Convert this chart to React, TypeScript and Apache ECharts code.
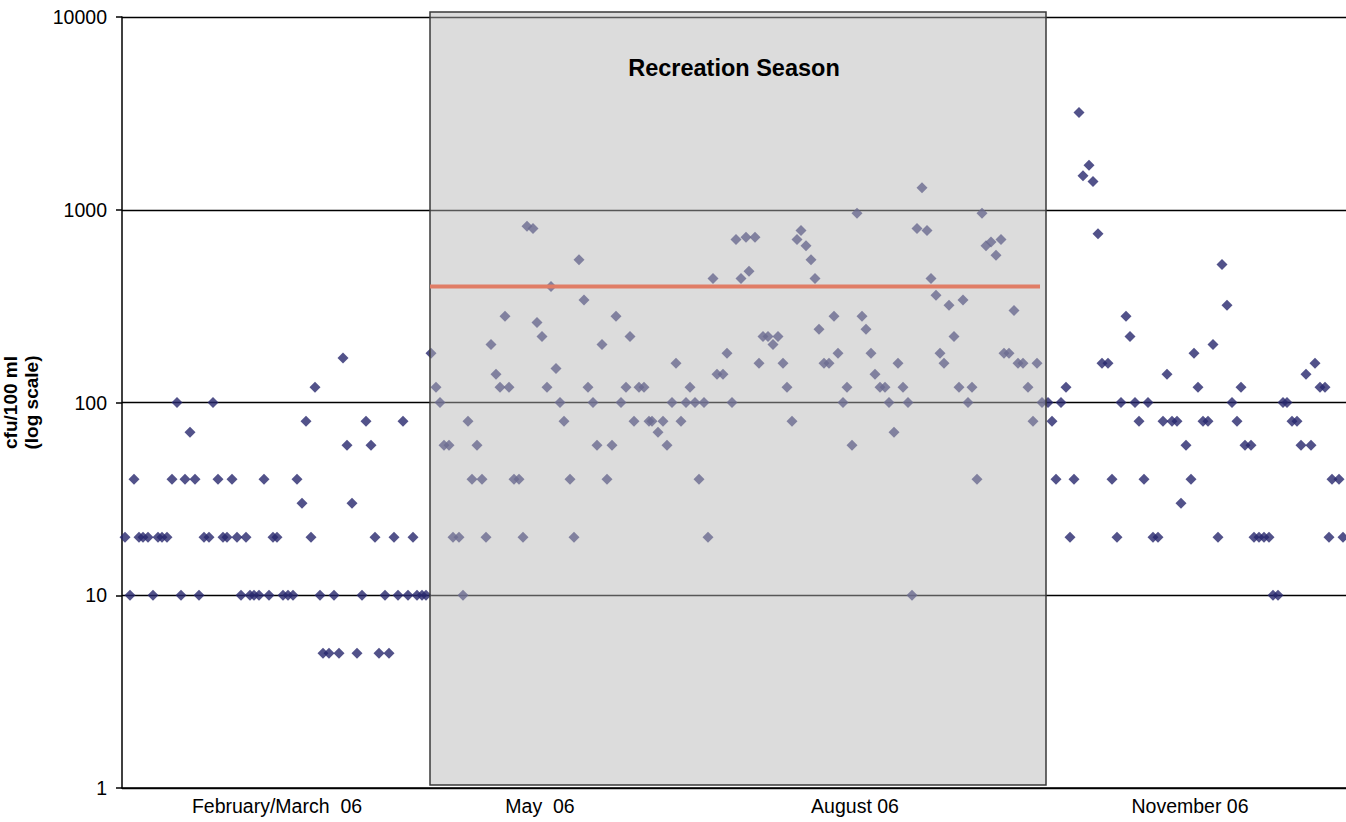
import React, { useEffect, useRef } from "react";
import * as echarts from "echarts";

// Sampling position (time units along the x axis) and cfu/100 ml readings
const febMar: [number, number][] = [
  [3, 20], [8, 10], [12, 40], [17, 20], [21, 20], [26, 20], [31, 10], [36, 20], [40, 20], [45, 20],
  [50, 40], [55, 100], [59, 10], [63, 40], [68, 70], [73, 40], [77, 10], [82, 20], [87, 20], [91, 100],
  [96, 40], [101, 20], [105, 20], [110, 40], [115, 20], [119, 10], [124, 20], [128, 10], [132, 10], [137, 10],
  [142, 40], [147, 10], [151, 20], [155, 20], [161, 10], [166, 10], [171, 10], [175, 40], [180, 30], [184, 80],
  [189, 20], [193, 120], [198, 10], [201, 5], [207, 5], [212, 10], [217, 5], [221, 170], [225, 60], [230, 30],
  [235, 5], [240, 10], [244, 80], [249, 60], [253, 20], [257, 5], [263, 10], [267, 5], [272, 20], [276, 10],
  [281, 80], [286, 10], [291, 20], [295, 10], [300, 10], [304, 10],
];

const season: [number, number][] = [
  [309, 180], [314, 120], [318, 100], [322, 60], [327, 60], [331, 20], [337, 20], [341, 10], [346, 80], [350, 40],
  [355, 60], [360, 40], [364, 20], [369, 200], [374, 140], [378, 120], [383, 280], [387, 120], [392, 40], [397, 40],
  [401, 20], [405, 820], [411, 800], [415, 260], [420, 220], [425, 120], [429, 400], [434, 150], [438, 100], [442, 80],
  [448, 40], [452, 20], [457, 550], [462, 340], [466, 120], [471, 100], [475, 60], [480, 200], [485, 40], [490, 60],
  [494, 280], [499, 100], [504, 120], [508, 220], [512, 80], [517, 120], [522, 120], [527, 80], [530, 80], [536, 70],
  [541, 80], [545, 60], [550, 100], [554, 160], [559, 80], [564, 100], [568, 120], [573, 100], [577, 40], [582, 100],
  [586, 20], [591, 440], [595, 140], [601, 140], [605, 180], [610, 100], [614, 700], [619, 440], [624, 720], [627, 480],
  [633, 720], [637, 160], [641, 220], [646, 220], [651, 200], [656, 220], [661, 160], [665, 120], [670, 80], [675, 700],
  [679, 780], [684, 650], [689, 550], [693, 440], [697, 240], [702, 160], [707, 160], [712, 280], [716, 180], [721, 100],
  [725, 120], [730, 60], [735, 960], [740, 280], [744, 240], [749, 180], [753, 140], [758, 120], [763, 120], [767, 100],
  [772, 70], [776, 160], [781, 120], [786, 100], [790, 10], [795, 800], [800, 1300], [805, 780], [809, 440], [814, 360],
  [818, 180], [822, 160], [827, 320], [832, 220], [837, 120], [841, 340], [846, 100], [850, 120], [855, 40], [860, 960],
  [864, 650], [869, 680], [874, 580], [879, 700], [882, 180], [887, 180], [892, 300], [896, 160], [901, 160], [906, 120],
  [911, 80], [915, 160], [920, 100],
];

const autumn: [number, number][] = [
  [926, 100], [930, 80], [934, 40], [939, 100], [944, 120], [948, 20], [952, 40], [957, 3200], [961, 1500], [967, 1700],
  [971, 1400], [976, 750], [980, 160], [986, 160], [990, 40], [995, 20], [999, 100], [1004, 280], [1008, 220], [1013, 100],
  [1017, 80], [1022, 40], [1026, 100], [1031, 20], [1036, 20], [1041, 80], [1045, 140], [1050, 80], [1055, 80], [1059, 30],
  [1064, 60], [1069, 40], [1072, 180], [1076, 120], [1081, 80], [1086, 80], [1091, 200], [1096, 20], [1100, 520], [1105, 320],
  [1110, 100], [1115, 80], [1119, 120], [1123, 60], [1129, 60], [1132, 20], [1137, 20], [1142, 20], [1147, 20], [1151, 10],
  [1156, 10], [1161, 100], [1165, 100], [1170, 80], [1175, 80], [1179, 60], [1184, 140], [1189, 60], [1193, 160], [1198, 120],
  [1203, 120], [1207, 20], [1210, 40], [1217, 40], [1221, 20],
];

const periodLabels = ["February/March  06", "May  06", "August 06", "November 06"];
const periodLabelPos = [155, 418, 733, 1068];

const seasonRange = [308, 924];
const standardRange = [308, 918];
const standardValue = 400;
const yTicks = [1, 10, 100, 1000, 10000];

const FONT = '"Liberation Sans", Arial, Helvetica, sans-serif';

export default function App() {
  const ref = useRef<HTMLDivElement>(null);

  useEffect(() => {
    if (!ref.current) return;
    const chart = echarts.init(ref.current, undefined, { renderer: "svg" });
    const labelMap: Record<number, string> = {};
    periodLabelPos.forEach((p, i) => (labelMap[p] = periodLabels[i]));

    const scatterBase = {
      type: "scatter",
      symbol: "diamond",
      symbolSize: 11,
      itemStyle: { color: "#27276d" },
      z: 2,
    };

    chart.setOption({
      animation: false,
      backgroundColor: "#fff",
      grid: { left: 122, top: 17, right: 0, bottom: 34, outerBoundsMode: "none", containLabel: false },
      xAxis: {
        type: "value",
        min: 0,
        max: 1224,
        axisLine: { show: true, onZero: false, lineStyle: { color: "#000", width: 1.5 } },
        axisTick: { show: false },
        splitLine: { show: false },
        axisLabel: {
          customValues: periodLabelPos,
          formatter: (v: number) => labelMap[v] ?? "",
          color: "#000",
          fontSize: 19.5,
          fontFamily: FONT,
          margin: 8,
        },
      },
      yAxis: {
        type: "log",
        logBase: 10,
        min: yTicks[0],
        max: yTicks[yTicks.length - 1],
        name: "cfu/100 ml\n(log scale)",
        nameLocation: "middle",
        nameRotate: 90,
        nameGap: 64,
        nameTextStyle: { fontSize: 19, fontWeight: "bold", fontFamily: FONT, color: "#000", lineHeight: 21 },
        axisLine: { show: true, lineStyle: { color: "#000", width: 1.5 } },
        axisTick: { show: true, length: 6, lineStyle: { color: "#000", width: 1.5 } },
        minorTick: { show: false },
        splitLine: { show: true, lineStyle: { color: "#000", width: 1.3 } },
        axisLabel: {
          color: "#000",
          fontSize: 19.5,
          fontFamily: FONT,
          margin: 15,
          formatter: (v: number) => String(Math.round(v)),
        },
      },
      series: [
        { ...scatterBase, name: "Feb/Mar", data: febMar },
        { ...scatterBase, name: "Season", data: season },
        { ...scatterBase, name: "Autumn", data: autumn },
        {
          type: "line",
          name: "Standard",
          data: [
            [standardRange[0], standardValue],
            [standardRange[1], standardValue],
          ],
          symbol: "none",
          lineStyle: { color: "#e07d66", width: 4 },
          z: 20,
          silent: true,
        },
      ],
    });

    const px = (t: number) => chart.convertToPixel({ xAxisIndex: 0 }, t) as number;
    const py = (v: number) => chart.convertToPixel({ yAxisIndex: 0 }, v) as number;
    const x0 = px(seasonRange[0]);
    const x1 = px(seasonRange[1]);
    const yTop = py(yTicks[yTicks.length - 1]) - 5;
    const yBot = py(yTicks[0]) - 3;

    chart.setOption({
      graphic: [
        {
          type: "rect",
          z: 10,
          silent: true,
          shape: { x: x0, y: yTop, width: x1 - x0, height: yBot - yTop },
          style: { fill: "rgba(182,182,182,0.48)", stroke: "#3a3a3a", lineWidth: 1.5 },
        },
        {
          type: "text",
          z: 30,
          silent: true,
          x: (x0 + x1) / 2 - 4,
          y: yTop + 56,
          style: {
            text: "Recreation Season",
            fontSize: 23.5,
            fontWeight: "bold",
            fontFamily: FONT,
            fill: "#000",
            align: "center",
            verticalAlign: "middle",
          },
        },
      ],
    });

    return () => chart.dispose();
  }, []);

  return (
    <div
      ref={ref}
      style={{ position: "absolute", left: 0, top: 0, width: 1346, height: 822 }}
    />
  );
}
